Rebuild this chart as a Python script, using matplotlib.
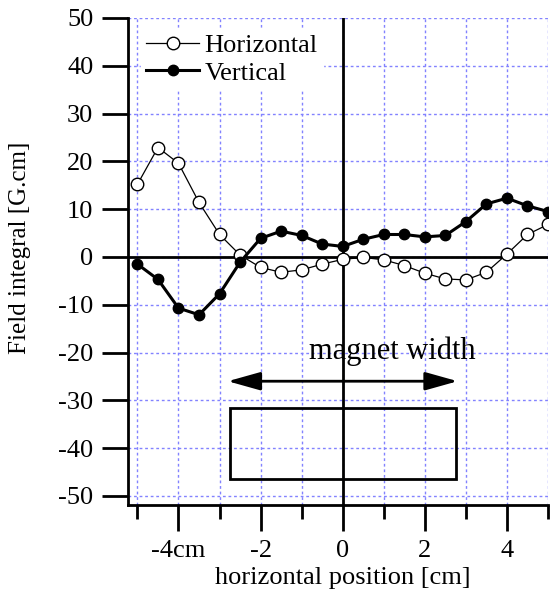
import matplotlib
matplotlib.use('Agg')
import matplotlib.pyplot as plt

# data
pos = [-5, -4.5, -4, -3.5, -3, -2.5, -2, -1.5, -1, -0.5, 0,
       0.5, 1, 1.5, 2, 2.5, 3, 3.5, 4, 4.5, 5]
horizontal = [15.2, 22.9, 19.6, 11.4, 4.7, 0.4, -2.2, -3.2, -2.7, -1.5, -0.5,
              -0.1, -0.6, -1.8, -3.4, -4.6, -4.8, -3.2, 0.6, 4.7, 6.8]
vertical = [-1.5, -4.7, -10.7, -12.1, -7.7, -1.1, 3.9, 5.4, 4.5, 2.7, 2.2,
            3.7, 4.7, 4.7, 4.2, 4.5, 7.4, 11.1, 12.3, 10.7, 9.5]

magnet_x = [-2.75, 2.75]
magnet_y = [-46.4, -31.7]
arrow_x = [-2.8, 2.8]
arrow_y = -26

yticks = [50, 40, 30, 20, 10, 0, -10, -20, -30, -40, -50]
xticks = [-4, -2, 0, 2, 4]
xtick_labels = ['-4cm', '-2', '0', '2', '4']

plt.rcParams['font.family'] = ['Liberation Serif', 'DejaVu Serif']

fig = plt.figure(figsize=(5.51, 5.95), dpi=100)
ax = fig.add_axes([128/551, 1-505/595, 420/551, 487/595])

ax.set_xlim(-5.23, 5.0)
ax.set_ylim(-51.9, 50)

# grid
gcol = '#8282ff'
for gx in range(-5, 6):
    ax.axvline(gx, color=gcol, lw=1.0, ls=(0, (2, 2)), zorder=0)
for gy in yticks:
    ax.axhline(gy, color=gcol, lw=1.0, ls=(0, (2, 2)), zorder=0)

# zero lines
ax.axhline(0, color='black', lw=2, zorder=1)
ax.axvline(0, color='black', lw=2, zorder=1)

# magnet box and arrow
ax.add_patch(plt.Rectangle((magnet_x[0], magnet_y[0]), magnet_x[1]-magnet_x[0],
                           magnet_y[1]-magnet_y[0], fill=False, lw=2, ec='black', zorder=2))
ax.annotate('', xy=(arrow_x[1], arrow_y), xytext=(arrow_x[0], arrow_y),
            arrowprops=dict(arrowstyle='<|-|>,head_length=1.0,head_width=0.28',
                            mutation_scale=20, lw=2, color='black',
                            shrinkA=0, shrinkB=0), zorder=3)
ax.text(1.22, -21.4, 'magnet width', fontsize=22, ha='center', va='baseline', zorder=3)

ax.plot(pos, horizontal, '-o', color='black', lw=0.9, mfc='white', mec='black',
        mew=1.0, ms=9, label='Horizontal', zorder=4)
ax.plot(pos, vertical, '-o', color='black', lw=2.2, mfc='black', mec='black',
        ms=7.5, label='Vertical', zorder=5)

leg = ax.legend(loc='upper left', bbox_to_anchor=(0.012, 0.995), fontsize=19,
                frameon=True, framealpha=1, edgecolor='white', fancybox=False,
                handlelength=2.0, handletextpad=0.2, borderaxespad=0.3,
                labelspacing=0.15, borderpad=0.2)
leg.set_zorder(6)

for s in ['top', 'right']:
    ax.spines[s].set_visible(False)
for s in ['left', 'bottom']:
    ax.spines[s].set_linewidth(2)

ax.set_yticks(yticks)
ax.set_yticklabels([str(v) for v in yticks])
ax.set_xticks(xticks)
ax.set_xticklabels(xtick_labels)
ax.set_xticks([-5, -3, -1, 1, 3, 5], minor=True)
ax.tick_params(axis='both', direction='out', width=2, length=19, labelsize=19)
ax.tick_params(axis='y', pad=6)
ax.tick_params(axis='x', pad=6)
ax.tick_params(axis='x', which='minor', direction='out', width=2, length=10)

ax.set_xlabel('horizontal position [cm]', fontsize=19)
ax.set_ylabel('Field integral [G.cm]', fontsize=18, va='center')
ax.xaxis.set_label_coords(0.511, -0.128)
ax.yaxis.set_label_coords(-0.257, 0.528)

fig.savefig('out.png', dpi=100)
